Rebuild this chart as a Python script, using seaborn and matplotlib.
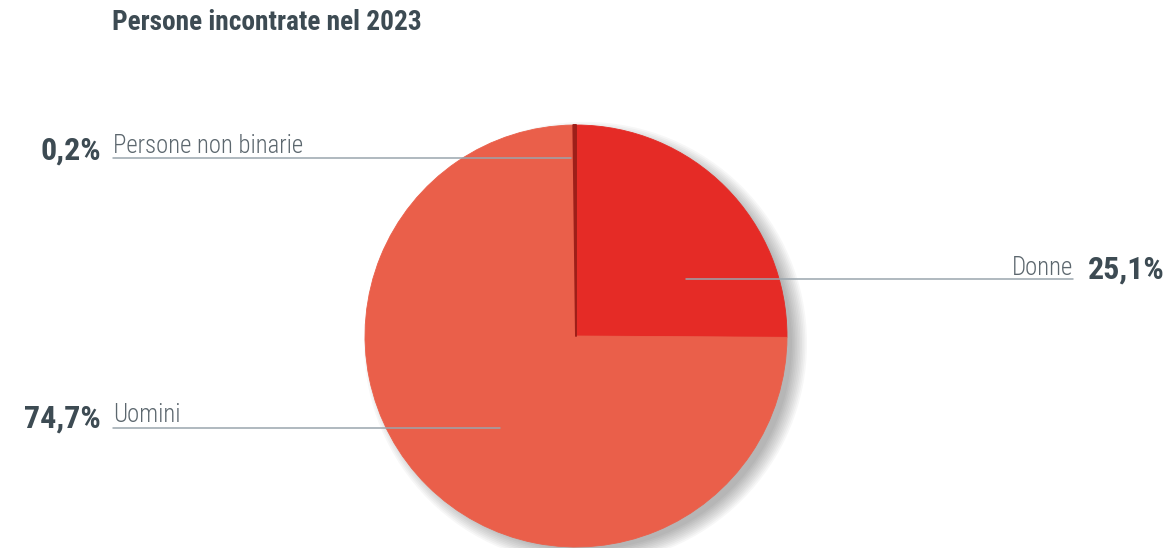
import numpy as np
import matplotlib
matplotlib.use("Agg")
import matplotlib.pyplot as plt
import seaborn as sns
from matplotlib import font_manager as fm
from matplotlib.patches import Circle

# data
categories = ["Donne", "Uomini", "Persone non binarie"]
shares = [25.1, 74.7, 0.2]
pct_labels = ["25,1%", "74,7%", "0,2%"]
colors = ["#E52B26", "#EA5F4A", "#9E1F19"]
title = "Persone incontrate nel 2023"

sns.set_theme(style="white")

# look for a narrow font, the reference uses a condensed DIN-like face
avail = {(f.name, f.stretch) for f in fm.fontManager.ttflist}
names = {n for n, s in avail}
family, stretch, scale = "DejaVu Sans", "normal", 0.86
for cand in ["Roboto Condensed", "Liberation Sans Narrow", "Open Sans Condensed"]:
    if cand in names:
        family, stretch, scale = cand, "normal", 1.0
        break
else:
    if ("DejaVu Sans", "condensed") in avail or ("DejaVu Sans", "semi-condensed") in avail:
        family, stretch, scale = "DejaVu Sans", "condensed", 0.95
plt.rcParams['font.family'] = [family, 'DejaVu Sans']
plt.rcParams['font.stretch'] = stretch

W, H = 1173, 548
fig = plt.figure(figsize=(W / 100, H / 100), dpi=100)
fig.patch.set_facecolor("white")

# pie axes: centre ~ (576, 336) px, radius ~ 211 px
cx, cy, r = 576, 336, 211
ax = fig.add_axes([(cx - r) / W, (H - cy - r) / H, 2 * r / W, 2 * r / H])
ax.axis("off")

# soft shadow to the lower right
for i in range(10):
    ax.add_patch(Circle((0.045, -0.035), 1.05 - i * 0.008, color="black",
                        alpha=0.032, lw=0, zorder=0, clip_on=False))

wedges, _ = ax.pie(shares, colors=colors, startangle=90, counterclock=False, radius=1,
                   wedgeprops=dict(linewidth=0.6), frame=False)
for w, c in zip(wedges, colors):
    w.set_edgecolor(c)
# the tiny slice is drawn a bit thicker so it stays visible, like in the source
wedges[2].set_linewidth(1.4)
wedges[2].set_joinstyle("round")
wedges[2].set_zorder(wedges[1].get_zorder() + 0.1)
ax.set_xlim(-1, 1)
ax.set_ylim(-1, 1)
ax.set_aspect("equal")

# overlay in pixel coords for labels and leader lines
ov = fig.add_axes([0, 0, 1, 1], facecolor="none")
ov.set_xlim(0, W)
ov.set_ylim(H, 0)
ov.axis("off")

line_c = "#9AA5AD"
dark = "#3D4B53"
light = "#5C676E"
fs_t, fs_p, fs_l = 19.7 * scale, 23 * scale, 17.8 * scale

ov.text(112, 23, title, fontsize=fs_t, fontweight="bold", color=dark, va="center", ha="left")

# Persone non binarie
ov.plot([113, 571], [158, 158], color=line_c, lw=1.1)
ov.text(101, 151, pct_labels[2], fontsize=fs_p, fontweight="bold", color=dark, ha="right", va="center")
ov.text(113, 146, categories[2], fontsize=fs_l, fontweight="light", color=light, ha="left", va="center")

# Donne
ov.plot([686, 1073], [279, 279], color=line_c, lw=1.1)
ov.text(1073, 268, categories[0], fontsize=fs_l, fontweight="light", color=light, ha="right", va="center")
ov.text(1088, 270, pct_labels[0], fontsize=fs_p, fontweight="bold", color=dark, ha="left", va="center")

# Uomini
ov.plot([113, 500], [428, 428], color=line_c, lw=1.1)
ov.text(101, 419, pct_labels[1], fontsize=fs_p, fontweight="bold", color=dark, ha="right", va="center")
ov.text(113, 415, categories[1], fontsize=fs_l, fontweight="light", color=light, ha="left", va="center")

fig.savefig("out.png", dpi=100)
